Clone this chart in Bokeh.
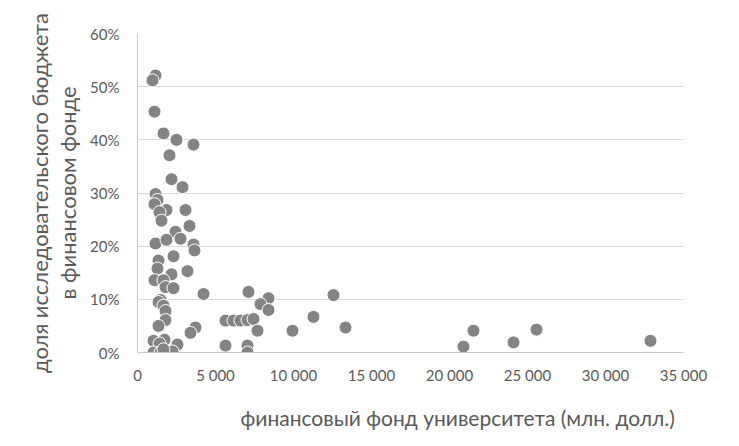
from bokeh.plotting import figure
from bokeh.models import Range1d, FixedTicker, Title, ColumnDataSource
from bokeh.embed import file_html
from bokeh.resources import INLINE

# финансовый фонд (млн. долл.)
endowment = [1154, 962, 1090, 1667, 2500, 3590, 2051, 2180, 2885, 1154, 1282, 1090,
             1859, 3077, 1410, 1538, 3333, 2436, 1154, 1859, 2756, 3590, 3654, 1346,
             2308, 1282, 2180, 3205, 1090, 1667, 1795, 2308, 4231, 1474, 1346, 1667,
             1795, 1795, 1346, 3718, 3397, 1026, 1731, 1410, 2564, 1026, 1474, 1923,
             2244, 1667,
             5641, 6154, 6603, 7051, 7436, 7115, 8397, 7885, 8397, 7692, 5641, 7051,
             7051, 9936, 11282, 12564, 13333, 20897, 21538, 24103, 25577, 32885]
# доля исследовательского бюджета
share = [0.521, 0.512, 0.453, 0.412, 0.400, 0.391, 0.371, 0.326, 0.311, 0.298, 0.287, 0.279,
         0.268, 0.268, 0.264, 0.248, 0.238, 0.227, 0.205, 0.212, 0.214, 0.203, 0.192, 0.173,
         0.181, 0.158, 0.147, 0.153, 0.136, 0.136, 0.123, 0.121, 0.110, 0.099, 0.095, 0.088,
         0.078, 0.061, 0.050, 0.047, 0.037, 0.022, 0.024, 0.017, 0.015, 0.000, 0.000, 0.002,
         0.002, 0.006,
         0.060, 0.060, 0.060, 0.061, 0.063, 0.114, 0.102, 0.091, 0.080, 0.041, 0.013, 0.013,
         0.000, 0.041, 0.067, 0.108, 0.047, 0.011, 0.041, 0.019, 0.043, 0.022]

x_ticks = [0, 5000, 10000, 15000, 20000, 25000, 30000, 35000]
x_tick_labels = ["0", "5 000", "10 000", "15 000", "20 000", "25 000", "30 000", "35 000"]
y_ticks = [0.0, 0.1, 0.2, 0.3, 0.4, 0.5, 0.6]
y_tick_labels = ["0%", "10%", "20%", "30%", "40%", "50%", "60%"]

FONT = "Lato"
TXT = "#595959"

p = figure(width=739, height=446, output_backend="svg", toolbar_location=None,
           x_range=Range1d(0, 35000), y_range=Range1d(0, 0.6),
           min_border_left=137, min_border_right=56, min_border_top=33, min_border_bottom=91)
p.outline_line_color = None
p.background_fill_color = "white"
p.border_fill_color = "white"

src = ColumnDataSource(dict(x=endowment, y=share))
p.scatter("x", "y", source=src, size=13, fill_color="#848484", line_color="white", line_width=1)

p.xaxis.ticker = FixedTicker(ticks=x_ticks)
p.xaxis.major_label_overrides = {t: l for t, l in zip(x_ticks, x_tick_labels)}
p.yaxis.ticker = FixedTicker(ticks=y_ticks)
p.yaxis.major_label_overrides = {t: l for t, l in zip(y_ticks, y_tick_labels)}

for ax in (p.xaxis, p.yaxis):
    ax.major_tick_line_color = None
    ax.minor_tick_line_color = None
    ax.axis_line_color = "#c8c8c8"
    ax.major_label_text_font = FONT
    ax.major_label_text_font_size = "15px"
    ax.major_label_text_color = TXT
    ax.axis_label_text_font = FONT
    ax.axis_label_text_font_style = "normal"
    ax.axis_label_text_color = TXT
    ax.axis_label_text_font_size = "22px"

p.xaxis.major_label_standoff = 7
p.yaxis.major_label_standoff = 12
p.yaxis.axis_label = "доля исследовательского бюджета\nв финансовом фонде"
p.yaxis.axis_label_standoff = 6
p.yaxis.axis_label_text_line_height = 1.05

p.xgrid.grid_line_color = None
p.ygrid.grid_line_color = "#d9d9d9"
p.ygrid.ticker = FixedTicker(ticks=y_ticks)

p.add_layout(Title(text="финансовый фонд университета (млн. долл.)", align="left",
                   offset=103, standoff=33, text_font=FONT, text_font_size="21px",
                   text_line_height=0.8,
                   text_font_style="normal", text_color=TXT), "below")

open("out.html", "w").write(file_html(p, INLINE))
